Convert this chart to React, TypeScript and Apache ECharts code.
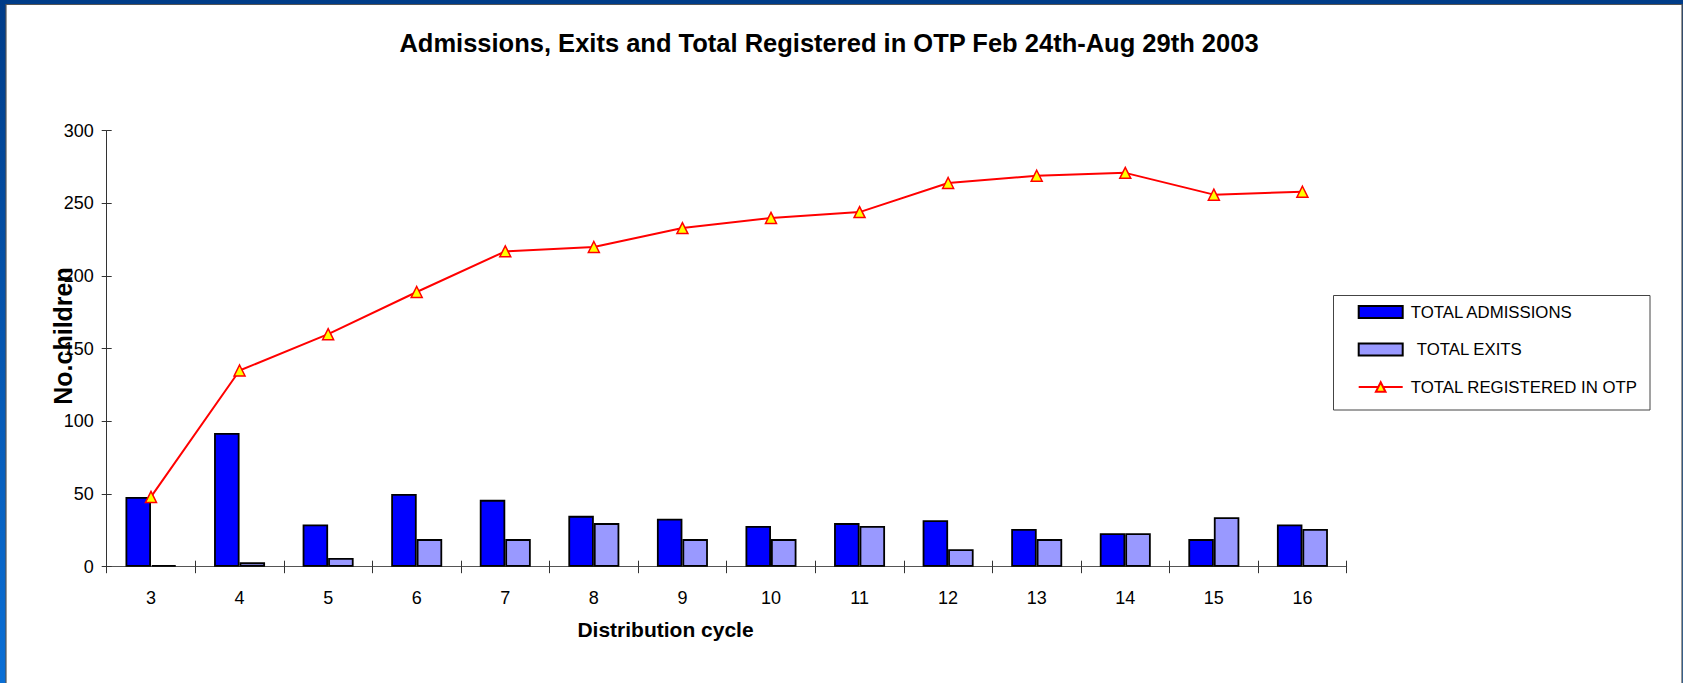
import React, { useEffect, useRef } from "react";
import * as echarts from "echarts";

const categories = ["3", "4", "5", "6", "7", "8", "9", "10", "11", "12", "13", "14", "15", "16"];
const admissions = [48, 92, 29, 50, 46, 35, 33, 28, 30, 32, 26, 23, 19, 29];
const exits = [1, 3, 6, 19, 19, 30, 19, 19, 28, 12, 19, 23, 34, 26];
const registered = [48, 135, 160, 189, 217, 220, 233, 240, 244, 264, 269, 271, 256, 258];

const titleText = "Admissions, Exits and Total Registered in OTP Feb 24th-Aug 29th 2003";
const xName = "Distribution cycle";
const yName = "No.children";
const seriesNames = ["TOTAL ADMISSIONS", "TOTAL EXITS", "TOTAL REGISTERED IN OTP"];

const FONT = "'Liberation Sans', Arial, sans-serif";

export default function App() {
  const ref = useRef<HTMLDivElement>(null);
  useEffect(() => {
    if (!ref.current) return;
    const chart = echarts.init(ref.current, null, { renderer: "svg" });
    chart.setOption({
      animation: false,
      backgroundColor: "transparent",
      textStyle: { fontFamily: FONT },
      graphic: [
        {
          type: "rect",
          z: -10,
          shape: { x: 0, y: 0, width: 1683, height: 683 },
          style: {
            fill: new echarts.graphic.LinearGradient(0, 0, 0, 1, [
              { offset: 0, color: "#003c88" },
              { offset: 1, color: "#0a6fd6" },
            ]),
          },
        },
        {
          type: "rect",
          z: -9,
          shape: { x: 6, y: 4.5, width: 1676, height: 690 },
          style: { fill: "#ffffff", stroke: "#555555", lineWidth: 1.2 },
        },
        {
          type: "text",
          z: 5,
          x: 829,
          y: 43,
          style: {
            text: titleText,
            font: `bold 25.5px ${FONT}`,
            fill: "#000000",
            textAlign: "center",
            textVerticalAlign: "middle",
          },
        },
        {
          type: "text",
          z: 5,
          x: 665.5,
          y: 629,
          style: {
            text: xName,
            font: `bold 21px ${FONT}`,
            fill: "#000000",
            textAlign: "center",
            textVerticalAlign: "middle",
          },
        },
        {
          type: "text",
          z: 5,
          x: 63,
          y: 336,
          rotation: Math.PI / 2,
          style: {
            text: yName,
            font: `bold 25px ${FONT}`,
            fill: "#000000",
            textAlign: "center",
            textVerticalAlign: "middle",
          },
        },
        {
          type: "rect",
          z: 1,
          shape: { x: 1333.5, y: 295.5, width: 316.5, height: 114.5 },
          style: { fill: "#ffffff", stroke: "#444444", lineWidth: 1 },
        },
      ],
      legend: {
        orient: "vertical",
        left: 1357.7,
        top: 302,
        padding: 0,
        itemWidth: 44,
        itemHeight: 12,
        itemGap: 17.5,
        z: 6,
        formatter: (name: string) =>
          name === seriesNames[1] ? `{b|${name}}` : `{a|${name}}`,
        textStyle: {
          fontSize: 16.8,
          lineHeight: 20,
          color: "#000000",
          fontFamily: FONT,
          rich: {
            a: { fontSize: 16.8, lineHeight: 20, padding: [0, 0, 0, 3], fontFamily: FONT, color: "#000000" },
            b: { fontSize: 16.8, lineHeight: 20, padding: [0, 0, 0, 9], fontFamily: FONT, color: "#000000" },
          },
        },
        data: [
          { name: seriesNames[0], icon: "rect" },
          { name: seriesNames[1], icon: "rect" },
          { name: seriesNames[2] },
        ],
      },
      grid: { left: 106.7, right: 336.3, top: 130.7, bottom: 116.3 },
      xAxis: [
        {
          type: "category",
          data: categories,
          boundaryGap: true,
          axisLine: { show: true, lineStyle: { color: "#555555", width: 1 } },
          axisTick: { show: true, inside: false, length: 6.5, lineStyle: { color: "#333333" } },
          axisLabel: { fontSize: 18, color: "#000000", margin: 22, fontFamily: FONT },
        },
        {
          type: "category",
          data: categories,
          position: "bottom",
          boundaryGap: true,
          axisLine: { show: false },
          axisTick: { show: true, inside: true, length: 6, lineStyle: { color: "#333333" } },
          axisLabel: { show: false },
        },
      ],
      yAxis: [
        {
          type: "value",
          min: 0,
          max: 300,
          interval: 50,
          splitLine: { show: false },
          axisLine: { show: true, lineStyle: { color: "#333333", width: 1 } },
          axisTick: { show: true, inside: false, length: 5, lineStyle: { color: "#333333" } },
          axisLabel: { fontSize: 18, color: "#000000", margin: 13, fontFamily: FONT },
        },
        {
          type: "value",
          min: 0,
          max: 300,
          interval: 50,
          position: "left",
          splitLine: { show: false },
          axisLine: { show: false },
          axisTick: { show: true, inside: true, length: 5, lineStyle: { color: "#333333" } },
          axisLabel: { show: false },
        },
      ],
      series: [
        {
          name: seriesNames[0],
          type: "bar",
          data: admissions,
          barWidth: 25.5,
          barGap: "0%",
          itemStyle: { color: "#0000ff", borderColor: "#000000", borderWidth: 1.8 },
        },
        {
          name: seriesNames[1],
          type: "bar",
          data: exits,
          barWidth: 25.5,
          barGap: "0%",
          itemStyle: { color: "#9999ff", borderColor: "#000000", borderWidth: 1.8 },
        },
        {
          name: seriesNames[2],
          type: "line",
          data: registered,
          z: 5,
          symbol: "triangle",
          symbolSize: 11,
          lineStyle: { color: "#ff0000", width: 2 },
          itemStyle: { color: "#ffff00", borderColor: "#ff0000", borderWidth: 1.5 },
        },
      ],
    });
    return () => chart.dispose();
  }, []);
  return (
    <div
      ref={ref}
      style={{ position: "absolute", left: 0, top: 0, width: 1683, height: 683 }}
    />
  );
}
